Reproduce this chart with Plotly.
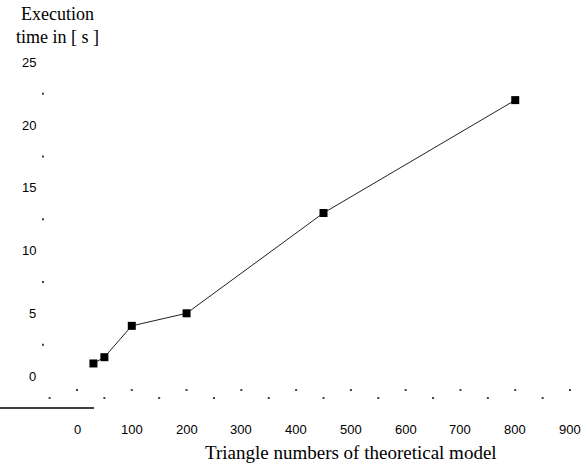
import plotly.graph_objects as go

# Data
triangles = [30, 50, 100, 200, 450, 800]
exec_time = [1.0, 1.5, 4.0, 5.0, 13.0, 22.0]

x_ticks = [0, 100, 200, 300, 400, 500, 600, 700, 800, 900]
x_tick_labels = ["0", "100", "200", "300", "400", "500", "600", "700", "800", "900"]
x_minor = [-50, 50, 150, 250, 350, 450, 550, 650, 750, 850]
y_ticks = [0, 5, 10, 15, 20, 25]
y_tick_labels = ["0", "5", "10", "15", "20", "25"]
y_minor = [2.5, 7.5, 12.5, 17.5, 22.5]

x_title = "Triangle numbers of theoretical model"
y_title_lines = ["Execution", "time in [ s ]"]

# Layout geometry (pixels -> data)
W, H = 581, 464
x0px, xs = 77.0, 0.5478
y0px, ys = 376.0, 12.54
xr = [-x0px / xs, (W - x0px) / xs]
yr = [-(H - y0px) / ys, y0px / ys]

def dx(px):
    return (px - x0px) / xs

def dy(px):
    return (y0px - px) / ys

fig = go.Figure()

# dotted axis marks
fig.add_trace(go.Scatter(x=x_ticks, y=[dy(390)] * len(x_ticks), mode="markers",
                         marker=dict(size=2, color="#444", symbol="square"),
                         hoverinfo="skip", showlegend=False))
fig.add_trace(go.Scatter(x=x_minor, y=[dy(398)] * len(x_minor), mode="markers",
                         marker=dict(size=2, color="#444", symbol="square"),
                         hoverinfo="skip", showlegend=False))
fig.add_trace(go.Scatter(x=[dx(43)] * len(y_minor), y=y_minor, mode="markers",
                         marker=dict(size=2, color="#444", symbol="square"),
                         hoverinfo="skip", showlegend=False))

# data series
fig.add_trace(go.Scatter(x=triangles, y=exec_time, mode="lines+markers",
                         line=dict(color="#222", width=1),
                         marker=dict(symbol="square", size=8, color="black"),
                         showlegend=False))

annotations = []
for v, t in zip(x_ticks, x_tick_labels):
    annotations.append(dict(x=v, y=dy(429), xref="x", yref="y", text=t, showarrow=False,
                            xanchor="center", yanchor="middle",
                            font=dict(family="Liberation Sans, Arial", size=13, color="black")))
for v, t in zip(y_ticks, y_tick_labels):
    annotations.append(dict(x=dx(38), y=v, xref="x", yref="y", text=t, showarrow=False,
                            xanchor="right", yanchor="middle",
                            font=dict(family="Liberation Sans, Arial", size=13, color="black")))
annotations.append(dict(x=dx(351), y=dy(452), xref="x", yref="y", text=x_title, showarrow=False,
                        xanchor="center", yanchor="middle",
                        font=dict(family="Liberation Serif, Times New Roman", size=19, color="black")))
annotations.append(dict(x=dx(57), y=dy(25), xref="x", yref="y", text="<br>".join(y_title_lines),
                        showarrow=False, xanchor="center", yanchor="middle", align="center",
                        font=dict(family="Liberation Serif, Times New Roman", size=18, color="black")))

fig.update_layout(
    width=W, height=H,
    margin=dict(l=0, r=0, t=0, b=0, pad=0),
    paper_bgcolor="white", plot_bgcolor="white",
    xaxis=dict(range=xr, visible=False, fixedrange=True),
    yaxis=dict(range=yr, visible=False, fixedrange=True),
    annotations=annotations,
    shapes=[dict(type="line", xref="x", yref="y", x0=dx(0), x1=dx(94), y0=dy(408), y1=dy(408),
                 line=dict(color="black", width=1.5))],
)

fig.write_html("out.html", config={"displayModeBar": False},
               post_script="document.body.style.margin='0';document.body.style.overflow='hidden';")
